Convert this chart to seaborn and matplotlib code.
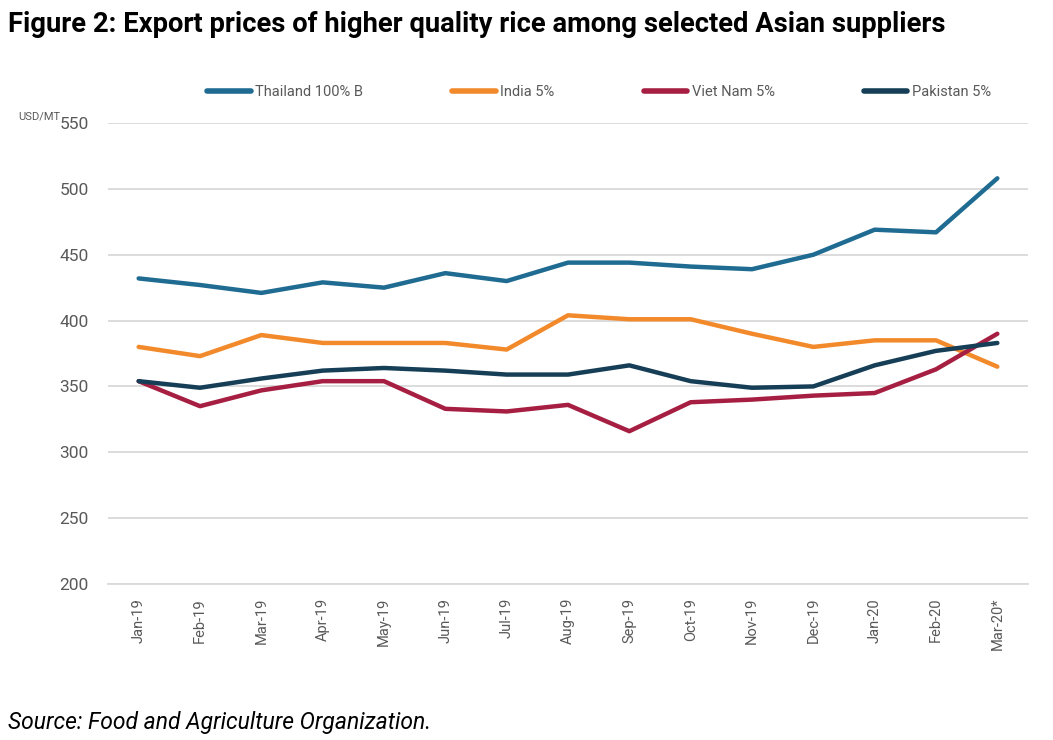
import numpy as np
import pandas as pd
import seaborn as sns
import matplotlib.pyplot as plt
from matplotlib.ticker import FixedLocator

months = ["Jan-19", "Feb-19", "Mar-19", "Apr-19", "May-19", "Jun-19", "Jul-19",
          "Aug-19", "Sep-19", "Oct-19", "Nov-19", "Dec-19", "Jan-20", "Feb-20", "Mar-20*"]
thailand = [432, 427, 421, 429, 425, 436, 430, 444, 444, 441, 439, 450, 469, 467, 508]
india = [380, 373, 389, 383, 383, 383, 378, 404, 401, 401, 390, 380, 385, 385, 365]
vietnam = [354, 335, 347, 354, 354, 333, 331, 336, 316, 338, 340, 343, 345, 363, 390]
pakistan = [354, 349, 356, 362, 364, 362, 359, 359, 366, 354, 349, 350, 366, 377, 383]
series_names = ["Thailand 100% B", "India 5%", "Viet Nam 5%", "Pakistan 5%"]
colors = ["#1f6b91", "#f28a2b", "#a61f42", "#163f57"]
yticks = [200, 250, 300, 350, 400, 450, 500, 550]

df = pd.DataFrame({"month": months, series_names[0]: thailand, series_names[1]: india,
                   series_names[2]: vietnam, series_names[3]: pakistan})
long = df.melt(id_vars="month", var_name="series", value_name="price")
long["x"] = long["month"].map({m: i for i, m in enumerate(months)})

sns.set_theme(style="white")
plt.rcParams['font.family'] = ['Roboto', 'DejaVu Sans']

fig = plt.figure(figsize=(10.53, 7.40), dpi=100)
ax = fig.add_axes([108/1053, 1-584/740, 920/1053, 461/740])

sns.lineplot(data=long, x="x", y="price", hue="series", hue_order=series_names,
             palette=colors, linewidth=3.2, ax=ax, legend=True, sort=False)

ax.set_xlim(-0.5, len(months) - 0.5)
ax.set_ylim(200, 550)
ax.set_yticks(yticks)
ax.set_yticklabels([str(v) for v in yticks], fontsize=12.5, color="#595959")
ax.yaxis.grid(True, color="#d9d9d9", linewidth=1.3)
ax.xaxis.grid(False)
ax.tick_params(axis="y", length=0, pad=14)
ax.set_xticks(range(len(months)))
ax.set_xticklabels(months, rotation=90, fontsize=10.5, color="#595959")
ax.tick_params(axis="x", which="major", length=0, pad=10)
ax.xaxis.set_minor_locator(FixedLocator(np.arange(-0.5, len(months), 1.0)))
ax.tick_params(axis="x", which="minor", length=6, color="#d9d9d9", width=1.2, direction="out")
for s in ["top", "right", "left"]:
    ax.spines[s].set_visible(False)
ax.spines["bottom"].set_color("#d9d9d9")
ax.spines["bottom"].set_linewidth(1.3)
ax.set_xlabel("")
ax.set_ylabel("")

handles, labels = ax.get_legend_handles_labels()
leg = ax.legend(handles, labels, loc="center", bbox_to_anchor=(599/1053, 1-92/740),
                bbox_transform=fig.transFigure, ncol=4, frameon=False, fontsize=10.5,
                labelcolor="#595959", handlelength=3.0, handletextpad=0.3, columnspacing=6.1)
for line in leg.get_lines():
    line.set_linewidth(4)

fig.text(18/1053, 1-117/740, "USD/MT", fontsize=8, color="#595959", va="center", ha="left")
fig.text(8/1053, 1-24/740, "Figure 2: Export prices of higher quality rice among selected Asian suppliers",
         fontsize=19.75, fontweight="bold", color="black", va="center", ha="left")
fig.text(8/1053, 1-722/740, "Source: Food and Agriculture Organization.",
         fontsize=16.5, fontstyle="italic", color="black", va="center", ha="left")

fig.savefig("out.png", dpi=100)
